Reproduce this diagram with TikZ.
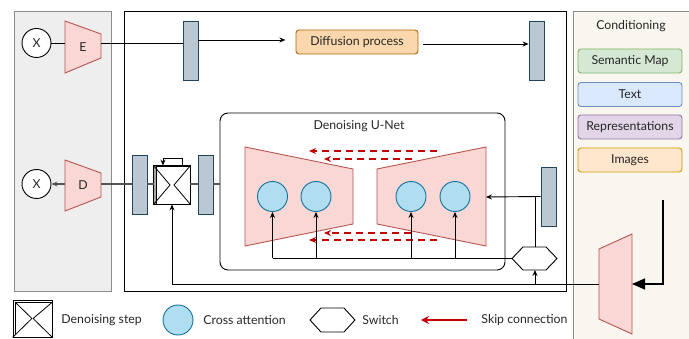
\documentclass[tikz,border=0pt]{standalone}
\usepackage{fontspec}
\setmainfont{Lato}
\usetikzlibrary{arrows.meta,calc}
\definecolor{trapfill}{HTML}{F8D7D4}
\definecolor{trapdraw}{HTML}{B85450}
\definecolor{rectfill}{HTML}{BAC8D3}
\definecolor{rectdraw}{HTML}{23445D}
\definecolor{circfill}{HTML}{B1DDF0}
\definecolor{circdraw}{HTML}{10739E}
\definecolor{grayfill}{HTML}{EEEEEE}
\definecolor{panelline}{HTML}{8C8C8C}
\definecolor{beige}{HTML}{F8F6EE}
\definecolor{skipred}{HTML}{C40000}
\definecolor{greenfill}{HTML}{D5E8D4}
\definecolor{greendraw}{HTML}{82B366}
\definecolor{bluefill}{HTML}{DAE8FC}
\definecolor{bluedraw}{HTML}{6C8EBF}
\definecolor{purplefill}{HTML}{E1D5E7}
\definecolor{purpledraw}{HTML}{9673A6}
\definecolor{orangefill}{HTML}{FFE6CC}
\definecolor{orangedraw}{HTML}{D79B00}
\definecolor{difffill}{HTML}{FAD7AC}
\definecolor{diffdraw}{HTML}{B46504}
\definecolor{darkline}{HTML}{555555}
\definecolor{textcol}{HTML}{262626}
\begin{document}
\begin{tikzpicture}[x=1pt,y=-1pt,
  font=\fontsize{12.3}{14}\selectfont,
  text=textcol,
  line width=0.9pt,
  arr/.style={-{Stealth[length=6pt,width=5pt]}},
  trap/.style={fill=trapfill,draw=trapdraw,line width=0.9pt},
  latent/.style={draw=rectdraw,fill=rectfill,minimum width=15pt,minimum height=59pt,inner sep=0pt,line width=0.9pt},
  xcirc/.style={circle,draw,fill=white,minimum size=29pt,inner sep=0pt},
  attn/.style={circle,draw=circdraw,fill=circfill,minimum size=30pt,inner sep=0pt,line width=0.9pt},
  condbox/.style={rounded corners=3pt,minimum width=104pt,minimum height=24pt,inner sep=0pt,line width=0.9pt},
  skip/.style={draw=skipred,line width=1.2pt,dash pattern=on 7pt off 5pt,-{Stealth[length=7pt,width=6pt]}},
  gline/.style={draw=darkline,line width=1.1pt},
  lbl/.style={anchor=west,inner sep=0pt}
]
\useasboundingbox (0,0) rectangle (689,339);

% panels
\path[fill=grayfill,draw=panelline] (14,11) rectangle (111,291);
\path[draw=black] (124,11) rectangle (566,291);
\path[fill=beige,draw=panelline] (573.5,11) rectangle (690,341);

% Conditioning panel
\node (condtitle) at (631,26) {Conditioning};
\node[condbox,fill=greenfill,draw=greendraw] (semmap) at (630,61) {Semantic Map};
\node[condbox,fill=bluefill,draw=bluedraw] (text) at (630,94.5) {Text};
\node[condbox,fill=purplefill,draw=purpledraw] (repr) at (630,127) {Representations};
\node[condbox,fill=orangefill,draw=orangedraw] (images) at (630,160) {Images};
\draw[trap] (599,249) -- (632,234) -- (632,334) -- (599,319) -- cycle;
\coordinate (condR) at (632,284);
\coordinate (condL) at (599,284);
\coordinate (condtop) at (663,200);
\draw[line width=1.2pt,-{Triangle[length=13pt,width=11pt]}] (condtop) |- (condR);

% left panel
\node[xcirc] (xin) at (36.5,43) {X};
\node[xcirc] (xout) at (36.5,184) {X};
\draw[trap] (65,21) -- (101,34) -- (101,58) -- (65,73) -- cycle;
\node (E) at (83,47) {E};
\coordinate (Ein) at (65,43);
\coordinate (Eout) at (101,43);
\draw[trap] (65,160) -- (101,173) -- (101,197) -- (65,211) -- cycle;
\node (D) at (83,185) {D};
\coordinate (Din) at (101,184);
\coordinate (Dout) at (65,184);
\draw (xin.east) -- (Ein);

% top row
\node[latent] (rect1) at (190.5,50.5) {};
\node[latent] (rect2) at (536.5,50.5) {};
\node[draw=diffdraw,fill=difffill,rounded corners=3pt,minimum width=122pt,minimum height=24pt,inner sep=0pt] (diff) at (357,42) {Diffusion process};
\draw (Eout) -- (Eout -| rect1.west);
\draw[arr] ([yshift=10.5pt]rect1.east) -- ++(87,0);
\draw[arr] ([xshift=5pt,yshift=-2pt]diff.east) -- ([yshift=6.5pt]rect2.west);

% decoder path
\node[latent] (rect3) at (139.5,184.5) {};
\node[latent] (rect4) at (205.5,184.5) {};
\node[draw,fill=white,minimum width=36pt,minimum height=38pt,inner sep=0pt] (dstep) at (172,185) {};
\fill[gray!70] ([xshift=0.5pt,yshift=-0.5pt]dstep.north west) rectangle ([xshift=3pt,yshift=0.5pt]dstep.south west);
\draw ([xshift=3pt]dstep.north west) -- ([xshift=3pt]dstep.south west);
\draw[line width=0.8pt] (dstep.north west) -- ([xshift=-2pt]dstep.center) -- (dstep.south west);
\draw[line width=0.8pt] (dstep.north east) -- ([xshift=2pt]dstep.center) -- (dstep.south east);
\draw (dstep.north west) rectangle (dstep.south east);
\draw[arr] ([xshift=10pt]dstep.north) -- ++(0,-7) -| ([xshift=-9pt]dstep.north);

% U-Net
\node[draw,rounded corners=8pt,minimum width=285pt,minimum height=157pt,inner sep=0pt] (unet) at (362.5,191.5) {};
\node (unettitle) at (359,126) {Denoising U-Net};
\draw[trap] (245,147) -- (353,169) -- (353,224) -- (245,246) -- cycle;
\draw[trap] (377,169) -- (486,147) -- (486,246) -- (377,224) -- cycle;
\coordinate (decR) at (486,197);
\node[attn] (c1) at (272.5,196.5) {};
\node[attn] (c2) at (316,196.5) {};
\node[attn] (c3) at (411,196.5) {};
\node[attn] (c4) at (455,196.5) {};

% skip connections
\coordinate (s1a) at (437,151); \coordinate (s1b) at (309,151);
\coordinate (s2a) at (412,159); \coordinate (s2b) at (324,159);
\coordinate (s3a) at (411,233); \coordinate (s3b) at (324,233);
\coordinate (s4a) at (437,240); \coordinate (s4b) at (309,240);
\draw[skip] (s1a) -- (s1b);
\draw[skip] (s2a) -- (s2b);
\draw[skip] (s3a) -- (s3b);
\draw[skip] (s4a) -- (s4b);

% decoder gray line
\draw[gline,-{Stealth[length=6pt,width=5pt]}] (Dout) -- (xout.east);
\draw[gline] (Din) -- (rect3.west |- Din);
\draw[gline] (rect3.east |- Din) -- (dstep.west |- Din);
\draw[gline] (dstep.east |- Din) -- (rect4.west |- Din);
\draw[gline] (rect4.east |- Din) -- (unet.west |- Din);

% small latent and switch
\node[latent] (rect5) at (548.5,196.5) {};
\coordinate (sw) at (535,258.5);
\coordinate (swN) at (535,247);
\coordinate (swS) at (535,270);
\coordinate (swW) at (512,258.5);
\draw[fill=white] (512,258.5) -- (523,247) -- (546,247) -- (557,258.5) -- (546,270) -- (523,270) -- cycle;
\draw[arr] (rect5.west) -- (decR);
\draw (swN) -- (swN |- rect5.west);
\draw (swW) -- (c1.south |- swW);
\draw[arr] (c1.south |- swW) -- (c1.south);
\draw[arr] (c2.south |- swW) -- (c2.south);
\draw[arr] (c3.south |- swW) -- (c3.south);
\draw[arr] (c4.south |- swW) -- (c4.south);
\draw (condL) -- (dstep.south |- condL);
\draw[arr] (dstep.south |- condL) -- (dstep.south);
\draw[arr] (swS |- condL) -- (swS);

% legend
\node[draw,fill=white,minimum width=39pt,minimum height=37pt,inner sep=0pt] (lstep) at (32.5,318.5) {};
\draw ([xshift=2.5pt,yshift=-2.5pt]lstep.north west) -- ([xshift=2.5pt,yshift=2.5pt]lstep.south west);
\draw ([xshift=2.5pt,yshift=-2.5pt]lstep.north west) -- ([yshift=-2.5pt]lstep.north east);
\draw[line width=0.8pt] ([xshift=2.5pt,yshift=-2.5pt]lstep.north west) -- ([xshift=-0.6pt]lstep.center) -- (lstep.south west);
\draw[line width=0.8pt] ([yshift=-2.5pt]lstep.north east) -- ([xshift=0.6pt]lstep.center) -- (lstep.south east);
\node[lbl] (lsteptext) at (61,320) {Denoising step};
\node[attn] (lcirc) at (178,320) {};
\node[lbl] (lcirctext) at (203,320) {Cross attention};
\draw (310,320) -- (321,308) -- (344,308) -- (355,320) -- (344,332) -- (321,332) -- cycle;
\coordinate (lhex) at (332,320);
\node[lbl] (lhextext) at (362,320) {Switch};
\coordinate (lskipa) at (467,320);
\coordinate (lskipb) at (421,320);
\draw[draw=skipred,line width=1.8pt,-{Stealth[length=8pt,width=8pt]}] (lskipa) -- (lskipb);
\node[lbl] (lskiptext) at (481,320) {Skip connection};
\end{tikzpicture}
\end{document}
